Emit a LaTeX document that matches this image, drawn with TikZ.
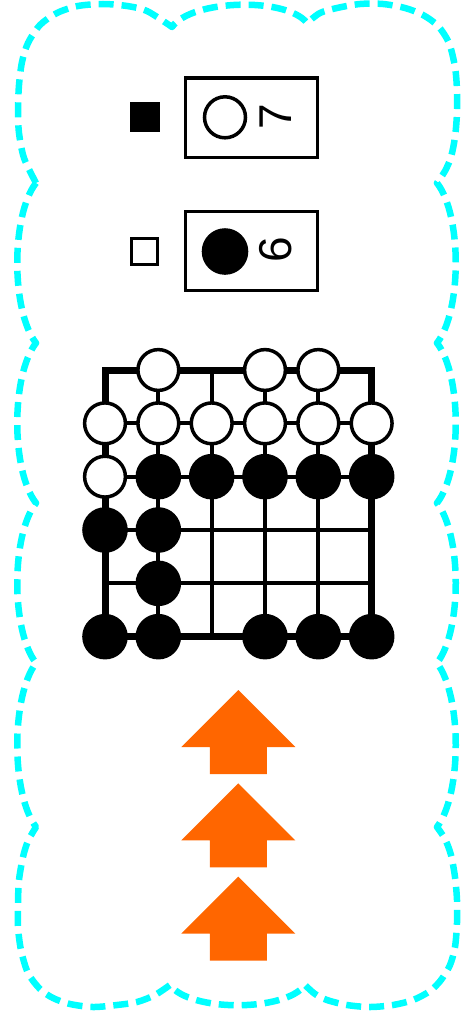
\documentclass[tikz,border=0pt]{standalone}
\usepackage{fontspec}
\setmainfont{Liberation Sans}
\definecolor{arroworange}{HTML}{FF6600}
\definecolor{cloudcyan}{RGB}{0,255,255}
\begin{document}
\begin{tikzpicture}[x=1pt,y=-1pt,
  cloud/.style={draw=cloudcyan, line width=6.5pt, dash pattern=on 15pt off 8pt, line join=round},
  wstone/.style={circle, draw=black, fill=white, line width=3.5pt, minimum size=40.8pt, inner sep=0pt},
  bstone/.style={circle, fill=black, minimum size=45.6pt, inner sep=0pt},
  gridline/.style={line width=4pt},
  border/.style={line width=7pt, line join=miter},
  legendbox/.style={draw=black, line width=3.4pt, minimum width=132pt, minimum height=79pt, inner sep=0pt},
  digit/.style={rotate=90, inner sep=0pt, font=\fontsize{46}{46}\selectfont},
  uparrow/.style={fill=arroworange}]
\useasboundingbox (0,0) rectangle (461,1022);

% cloud border
\draw[cloud]
  plot[smooth] coordinates {(36,183) (24,158) (19,133) (18,110) (19,85) (22,62) (28,43) (40,25) (57,13) (78,6) (103,4) (127,6) (147,11) (172,27)}
  .. controls (192,-1) and (287,-3) .. (307,23)
  -- plot[smooth] coordinates {(307,23) (320,13) (337,8) (360,4) (383,4) (405,8) (423,15) (438,26) (449,43) (455,67) (457,90) (457,113) (455,137) (451,157) (445,171) (437,183)}
  .. controls (462,215) and (462,311) .. (437,343)
  .. controls (462,375) and (462,471) .. (437,503)
  .. controls (462,535) and (462,631) .. (437,663)
  .. controls (462,696) and (462,794) .. (437,827)
  -- plot[smooth] coordinates {(437,827) (445,839) (451,855) (455,877) (457,900) (457,923) (455,947) (450,965) (441,980) (430,991) (413,1000) (393,1005) (370,1007) (347,1005) (327,1000) (315,994) (305,985)}
  .. controls (285,1012) and (190,1012) .. (170,985)
  -- plot[smooth] coordinates {(170,985) (155,995) (137,1002) (117,1005) (93,1007) (70,1004) (53,998) (40,989) (28,973) (21,950) (18,927) (18,903) (19,880) (23,857) (28,841) (36,827)}
  .. controls (11,794) and (11,696) .. (36,663)
  .. controls (11,631) and (11,535) .. (36,503)
  .. controls (11,471) and (11,375) .. (36,343)
  .. controls (11,311) and (11,215) .. (36,183);

% legend
\node[fill=black, minimum size=30pt, inner sep=0pt] (sqb) at (144.7,117.3) {};
\node[legendbox] (box1) at (251.6,117.7) {};
\node[wstone, minimum size=41pt] (leg1) at (225,117.3) {};
\node[digit] (num7) at (276,117) {7};

\node[draw=black, line width=3pt, minimum size=26.3pt, inner sep=0pt] (sqw) at (144.7,251.3) {};
\node[legendbox] (box2) at (251.6,251.1) {};
\node[bstone, minimum size=46.6pt] (leg2) at (225,251.5) {};
\node[digit] (num6) at (276,250) {6};

% board
\begin{scope}[shift={(105,370)}, x=53.333pt, y=-53.333pt]
  \foreach \c in {1,...,4} \draw[gridline] (\c,0) -- (\c,5);
  \foreach \r in {1,...,4} \draw[gridline] (0,\r) -- (5,\r);
  \draw[border] (0,0) rectangle (5,5);
  % white stones
  \foreach \c/\r in {1/0,3/0,4/0,0/1,1/1,2/1,3/1,4/1,5/1,0/2}
    \node[wstone] (w-\c-\r) at (\c,\r) {};
  % black stones
  \foreach \c/\r in {1/2,2/2,3/2,4/2,5/2,0/3,1/3,1/4,0/5,1/5,3/5,4/5,5/5}
    \node[bstone] (b-\c-\r) at (\c,\r) {};
\end{scope}

% arrows
\foreach \k/\dy in {a1/0,a2/93.333,a3/186.667} {
  \fill[uparrow] (238.3,690+\dy) -- (295.3,747+\dy) -- (266.8,747+\dy) -- (266.8,774+\dy)
     -- (209.8,774+\dy) -- (209.8,747+\dy) -- (181.3,747+\dy) -- cycle;
}
\end{tikzpicture}
\end{document}
